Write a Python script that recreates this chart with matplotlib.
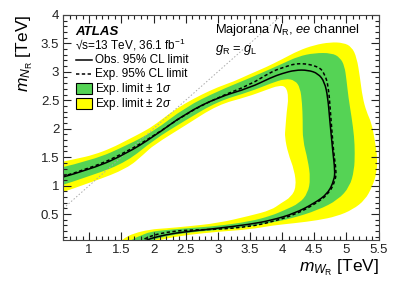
import matplotlib
matplotlib.use("Agg")
import matplotlib.pyplot as plt
from matplotlib.patches import Rectangle, PathPatch
from matplotlib.path import Path
from matplotlib.ticker import MultipleLocator, FuncFormatter

plt.rcParams["font.family"] = ["Liberation Sans", "DejaVu Sans"]
plt.rcParams["mathtext.fontset"] = "custom"
plt.rcParams["mathtext.rm"] = "Liberation Sans"
plt.rcParams["mathtext.it"] = "Liberation Sans:italic"
plt.rcParams["mathtext.bf"] = "Liberation Sans:bold"

# contours: (m_WR, m_NR) in TeV, from left edge round to bottom edge
yel_out_x = [0.50, 0.80, 1.07, 1.35, 1.59, 1.80, 2.00, 2.25, 2.50, 2.75, 3.00, 3.25, 3.50, 3.75, 4.00,
             4.25, 4.50, 4.75, 4.95, 5.08, 5.16, 5.21, 5.25, 5.31, 5.39, 5.44, 5.48, 5.47, 5.40, 5.29,
             5.10, 4.85, 4.55, 4.20, 3.85, 3.50, 3.00, 2.50, 2.20, 2.05, 1.95]
yel_out_y = [1.40, 1.47, 1.54, 1.66, 1.80, 1.92, 2.05, 2.27, 2.45, 2.60, 2.73, 2.83, 2.96, 3.08, 3.22,
             3.37, 3.47, 3.52, 3.51, 3.44, 3.25, 2.90, 2.55, 2.30, 2.10, 1.80, 1.50, 1.22, 0.98, 0.75,
             0.58, 0.46, 0.39, 0.34, 0.30, 0.23, 0.19, 0.13, 0.07, 0.03, 0.00]

grn_out_x = [0.50, 1.07, 1.59, 2.00, 2.50, 3.00, 3.50, 4.00, 4.25, 4.50, 4.77, 4.90, 4.97, 5.00, 5.03,
             5.08, 5.12, 5.13, 5.12, 5.05, 4.87, 4.56, 4.14, 3.83, 3.50, 3.00, 2.50, 2.20, 2.00, 1.90]
grn_out_y = [1.30, 1.45, 1.71, 1.95, 2.38, 2.66, 2.89, 3.14, 3.27, 3.33, 3.33, 3.25, 3.10, 2.86, 2.55,
             2.20, 1.86, 1.57, 1.27, 0.98, 0.75, 0.57, 0.42, 0.35, 0.28, 0.22, 0.17, 0.11, 0.05, 0.00]

obs_x = [0.50, 1.07, 1.59, 2.00, 2.50, 3.00, 3.50, 3.83, 4.00, 4.20, 4.40, 4.56, 4.66, 4.71, 4.74,
         4.79, 4.82, 4.81, 4.71, 4.50, 4.19, 3.83, 3.50, 3.00, 2.50, 2.20, 1.95, 1.85]
obs_y = [1.12, 1.30, 1.57, 1.86, 2.27, 2.55, 2.72, 2.90, 2.97, 3.03, 3.03, 2.97, 2.82, 2.55, 2.15,
         1.57, 1.27, 1.10, 0.86, 0.69, 0.51, 0.39, 0.32, 0.25, 0.19, 0.14, 0.07, 0.02]

exp_x = [0.50, 1.07, 1.59, 2.00, 2.50, 3.00, 3.50, 3.83, 4.00, 4.25, 4.56, 4.66, 4.72, 4.75, 4.80,
         4.84, 4.83, 4.73, 4.52, 4.20, 3.83, 3.50, 3.00, 2.50, 2.20, 2.00, 1.85, 1.80]
exp_y = [1.13, 1.32, 1.60, 1.87, 2.26, 2.55, 2.77, 3.00, 3.07, 3.16, 3.10, 2.97, 2.74, 2.30, 1.57,
         1.27, 1.10, 0.86, 0.68, 0.49, 0.36, 0.28, 0.23, 0.22, 0.18, 0.13, 0.06, 0.02]

grn_in_x = [0.50, 1.07, 1.59, 2.00, 2.50, 3.00, 3.50, 3.83, 4.05, 4.20, 4.28, 4.31, 4.32, 4.32, 4.40,
            4.44, 4.40, 4.27, 4.04, 3.83, 3.50, 3.00, 2.50, 2.20, 1.95, 1.80, 1.69, 1.63]
grn_in_y = [0.98, 1.185, 1.42, 1.80, 2.15, 2.48, 2.65, 2.80, 2.88, 2.85, 2.72, 2.45, 2.15, 1.80, 1.45,
            1.12, 0.87, 0.69, 0.57, 0.47, 0.37, 0.29, 0.25, 0.22, 0.19, 0.12, 0.07, 0.02]

yel_in_x = [0.50, 1.07, 1.59, 1.85, 2.00, 2.50, 3.00, 3.46, 3.75, 3.95, 4.06, 4.10, 4.07, 4.05, 4.04,
            4.09, 4.19, 4.22, 4.14, 3.98, 3.83, 3.50, 3.00, 2.50, 2.20, 1.95, 1.69, 1.55, 1.49]
yel_in_y = [0.85, 1.07, 1.30, 1.55, 1.71, 2.06, 2.42, 2.56, 2.68, 2.76, 2.74, 2.55, 2.30, 2.00, 1.86,
            1.57, 1.27, 0.98, 0.80, 0.69, 0.57, 0.47, 0.34, 0.28, 0.25, 0.23, 0.16, 0.08, 0.02]

diag = [0.6, 4.0]

green = "#55d355"
yellow = "#ffff00"

fig = plt.figure(figsize=(3.99, 2.86), dpi=100)
ax = fig.add_axes([0.159, 0.162, 0.790, 0.786])


def smooth_path(xs, ys, close=False):
    # quadratic bezier through the midpoints, read points used as control points
    pts = list(zip(xs, ys))
    verts = [pts[0]]
    codes = [Path.MOVETO]
    for i in range(1, len(pts) - 1):
        mid = ((pts[i][0] + pts[i + 1][0]) / 2, (pts[i][1] + pts[i + 1][1]) / 2)
        verts += [pts[i], mid]
        codes += [Path.CURVE3, Path.CURVE3]
    verts.append(pts[-1])
    codes.append(Path.LINETO)
    if close:
        # close through the lower-left corner, outside the axes
        verts += [(0.3, -0.2), pts[0]]
        codes += [Path.LINETO, Path.CLOSEPOLY]
    return Path(verts, codes)


def fill_region(xs, ys, color):
    ax.add_patch(PathPatch(smooth_path(xs, ys, close=True), facecolor=color, lw=0, zorder=1))


def draw_line(xs, ys, **kw):
    ax.add_patch(PathPatch(smooth_path(xs, ys), facecolor="none", edgecolor="black",
                           capstyle="butt", **kw))


fill_region(yel_out_x, yel_out_y, yellow)
fill_region(grn_out_x, grn_out_y, green)
fill_region(grn_in_x, grn_in_y, yellow)
fill_region(yel_in_x, yel_in_y, "white")

ax.plot(diag, diag, color="#aaaaaa", lw=0.7, ls=(0, (1.5, 2)), zorder=2)
draw_line(exp_x, exp_y, lw=1.1, ls=(0, (2.2, 1.6)), zorder=3)
draw_line(obs_x, obs_y, lw=1.1, zorder=4)

ax.set_xlim(0.6, 5.5)
ax.set_ylim(0.05, 4.0)
ax.xaxis.set_major_locator(MultipleLocator(0.5))
ax.xaxis.set_minor_locator(MultipleLocator(0.1))
ax.yaxis.set_major_locator(MultipleLocator(0.5))
ax.yaxis.set_minor_locator(MultipleLocator(0.1))
fmt = FuncFormatter(lambda v, p: "%g" % v)
ax.xaxis.set_major_formatter(fmt)
ax.yaxis.set_major_formatter(fmt)
ax.tick_params(which="both", direction="in", top=True, right=True, labelsize=9.5, colors="#222222")
ax.tick_params(which="major", length=5.5, width=0.8, pad=3)
ax.tick_params(which="minor", length=2.8, width=0.8)
for s in ax.spines.values():
    s.set_linewidth(0.8)
    s.set_color("#444444")
    s.set_zorder(6)

ax.set_xlabel(r"$m_{W_{\rm R}}$ [TeV]", loc="right", fontsize=12.5, labelpad=1)
ax.set_ylabel(r"$m_{N_{\rm R}}$ [TeV]", loc="top", fontsize=12.5, labelpad=4)

tr = ax.transAxes
ax.text(0.037, 0.924, "ATLAS", transform=tr, fontsize=9.5, fontweight="bold", style="italic", va="center")
ax.text(0.037, 0.866, "\u221as=13 TeV, 36.1 fb$^{-1}$", transform=tr, fontsize=8.5, va="center")

leg_y = [0.800, 0.737, 0.671, 0.604]
leg_txt = ["Obs. 95% CL limit", "Exp. 95% CL limit", r"Exp. limit $\pm$ 1$\sigma$", r"Exp. limit $\pm$ 2$\sigma$"]
ax.plot([0.040, 0.090], [leg_y[0]] * 2, transform=tr, color="black", lw=1.1, zorder=7)
ax.plot([0.040, 0.090], [leg_y[1]] * 2, transform=tr, color="black", lw=1.1, ls=(0, (2.2, 1.6)), zorder=7)
for yy, col in zip(leg_y[2:], [green, yellow]):
    ax.add_patch(Rectangle((0.040, yy - 0.024), 0.050, 0.048, transform=tr, facecolor=col,
                           edgecolor="black", lw=0.8, zorder=7))
for yy, t in zip(leg_y, leg_txt):
    ax.text(0.100, yy, t, transform=tr, fontsize=8.5, va="center", zorder=7)

ax.text(0.481, 0.934, r"Majorana $N_{\rm R}$, $ee$ channel", transform=tr, fontsize=9.3, va="center")
ax.text(0.481, 0.845, r"$g_{\rm R}$ = $g_{\rm L}$", transform=tr, fontsize=9.3, va="center")

fig.savefig("out.png", dpi=100)
